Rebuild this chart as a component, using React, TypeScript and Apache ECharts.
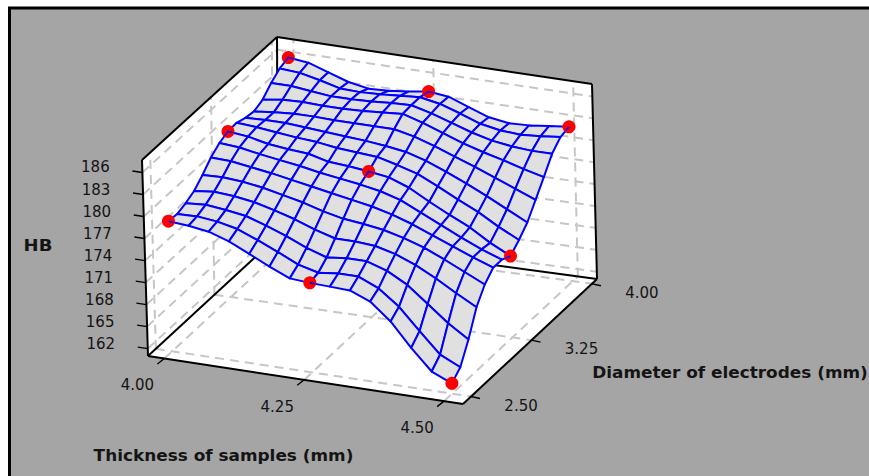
import React, { useEffect, useRef } from "react";
import * as echarts from "echarts";

const thicknessTicks = [4.0, 4.25, 4.5];
const diameterTicks = [2.5, 3.25, 4.0];
const hbTicks = [162, 165, 168, 171, 174, 177, 180, 183, 186];
const thicknessLabels = ["4.00", "4.25", "4.50"];
const diameterLabels = ["2.50", "3.25", "4.00"];
const gridSteps = 14;

// HB on the response surface: rows run from diameter 2.50 to 4.00, columns from thickness 4.00 to 4.50
const hbRow00 = [178.7,178.5,178.1,177.2,175.9,174.6,173.4,173.2,173.1,173.0,171.9,169.6,166.4,163.6,162.4];
const hbRow01 = [178.6,178.7,178.4,177.8,176.7,175.5,174.2,173.5,173.8,173.8,172.6,170.5,167.6,164.8,163.5];
const hbRow02 = [179.0,179.2,178.9,178.5,177.6,176.6,175.4,174.5,174.8,174.8,173.9,172.4,170.2,168.0,166.2];
const hbRow03 = [179.6,179.9,179.7,179.3,178.6,177.8,176.8,176.0,176.0,175.8,175.1,174.0,172.6,171.0,169.5];
const hbRow04 = [180.7,180.8,180.6,180.2,179.6,179.0,178.2,177.6,177.3,176.9,176.2,175.3,174.1,172.8,171.5];
const hbRow05 = [182.0,181.9,181.5,181.1,180.6,180.1,179.6,179.1,178.6,177.9,177.0,175.9,174.8,173.7,172.7];
const hbRow06 = [182.9,182.7,182.2,181.8,181.4,180.9,180.5,180.1,179.6,178.8,177.5,176.2,174.9,173.7,172.7];
const hbRow07 = [183.4,183.1,182.5,182.2,182.0,181.3,181.1,180.8,180.4,179.4,177.9,176.5,175.2,173.5,172.1];
const hbRow08 = [183.5,183.3,183.0,182.7,182.5,182.1,181.9,181.7,181.0,180.2,178.9,177.5,176.2,174.6,173.2];
const hbRow09 = [183.1,183.2,183.2,183.0,182.8,182.6,182.4,182.1,181.7,180.9,179.8,178.6,177.3,175.9,174.5];
const hbRow10 = [182.9,183.2,183.4,183.4,183.3,183.3,183.3,183.3,182.7,181.8,180.8,179.8,178.7,177.6,176.5];
const hbRow11 = [183.4,183.8,183.9,183.8,183.8,183.9,184.1,184.3,183.5,182.5,181.5,180.7,180.0,179.2,178.5];
const hbRow12 = [184.6,184.6,184.3,184.0,184.0,184.1,184.3,184.4,183.7,182.8,181.9,181.2,180.8,180.6,180.6];
const hbRow13 = [185.5,185.3,184.7,184.0,183.9,184.0,184.2,184.4,183.9,183.0,182.0,181.5,181.3,181.5,181.8];
const hbRow14 = [185.9,185.6,184.7,183.8,183.3,183.4,183.7,184.1,183.8,182.8,181.8,181.4,181.5,181.8,182.1];
const hbRows = [hbRow00,hbRow01,hbRow02,hbRow03,hbRow04,hbRow05,hbRow06,hbRow07,hbRow08,hbRow09,hbRow10,hbRow11,hbRow12,hbRow13,hbRow14];

// Measured design points sit on the nodes of the surface: [thickness index, diameter index]
const designPoints = [[0,0],[7,0],[14,0],[0,7],[7,7],[14,7],[0,14],[7,14],[14,14]];

// Projection of the plot box on the page
const HB_MIN = 161;
const HB_MAX = 187.7;
const U0 = 0.052, U1 = 0.94, V0 = 0.06, V1 = 0.962;
const floorCorners = { a: [148, 356], b: [463, 404], c: [597, 279], d: [278, 236] };
const roofCorners = { a: [142, 160], b: [458.5, 208], c: [592, 84], d: [277, 37] };

type P = [number, number];
const lerp = (a: number, b: number, t: number) => a + (b - a) * t;
function bil(q: typeof floorCorners, u: number, v: number): P {
  const f = (k: number) =>
    lerp(lerp(q.a[k], q.b[k], u), lerp(q.d[k], q.c[k], u), v);
  return [f(0), f(1)];
}
function boxPoint(u: number, v: number, t: number): P {
  const a = bil(floorCorners, u, v);
  const b = bil(roofCorners, u, v);
  return [lerp(a[0], b[0], t), lerp(a[1], b[1], t)];
}
const uOf = (thk: number) => U0 + ((thk - 4) / 0.5) * (U1 - U0);
const vOf = (dia: number) => V0 + ((dia - 2.5) / 1.5) * (V1 - V0);
const tOf = (hb: number) => (hb - HB_MIN) / (HB_MAX - HB_MIN);
const node = (i: number, j: number): P =>
  boxPoint(uOf(4 + (0.5 * i) / gridSteps), vOf(2.5 + (1.5 * j) / gridSteps), tOf(hbRows[j][i]));

const BLACK = "#000000";
const GRID = "#c6c6c6";
const BLUE = "#0000ff";
const TEXT = "#141414";
const FONT = '"DejaVu Sans", sans-serif';

const seg = (a: P, b: P, stroke: string, lineWidth: number, dash?: number[]) => ({
  type: "line",
  silent: true,
  shape: { x1: a[0], y1: a[1], x2: b[0], y2: b[1] },
  style: { stroke, lineWidth, lineDash: dash, fill: null, lineCap: "butt" },
});
const poly = (pts: P[], fill: string) => ({
  type: "polygon",
  silent: true,
  shape: { points: pts },
  style: { fill, stroke: null },
});

function boxChildren() {
  const c: any[] = [];
  const p = boxPoint;
  c.push(poly([p(0,0,0), p(0,0,1), p(0,1,1), p(0,1,0)], "#ffffff"));
  c.push(poly([p(0,1,0), p(0,1,1), p(1,1,1), p(1,1,0)], "#ffffff"));
  c.push(poly([p(0,0,0), p(1,0,0), p(1,1,0), p(0,1,0)], "#ffffff"));
  const dash = [9, 6];
  diameterTicks.forEach((d) => {
    const v = vOf(d);
    c.push(seg(p(0,v,0), p(1,v,0), GRID, 2, dash));
    c.push(seg(p(0,v,0), p(0,v,1), GRID, 2, dash));
  });
  thicknessTicks.forEach((x) => {
    const u = uOf(x);
    c.push(seg(p(u,0,0), p(u,1,0), GRID, 2, dash));
    c.push(seg(p(u,1,0), p(u,1,1), GRID, 2, dash));
  });
  hbTicks.forEach((h) => {
    const t = tOf(h);
    c.push(seg(p(0,0,t), p(0,1,t), GRID, 2, dash));
    c.push(seg(p(0,1,t), p(1,1,t), GRID, 2, dash));
  });
  const edges: [P, P][] = [
    [p(0,0,0), p(1,0,0)], [p(1,0,0), p(1,1,0)], [p(1,1,0), p(0,1,0)], [p(0,1,0), p(0,0,0)],
    [p(0,0,0), p(0,0,1)], [p(0,0,1), p(0,1,1)], [p(0,1,1), p(1,1,1)], [p(1,1,1), p(1,1,0)], [p(0,1,0), p(0,1,1)],
  ];
  edges.forEach(([a, b]) => c.push(seg(a, b, BLACK, 2)));
  hbTicks.forEach((h) => {
    const a = p(0,0,tOf(h));
    c.push(seg(a, [a[0] - 10, a[1] - 1.5], BLACK, 1.4));
  });
  thicknessTicks.forEach((x) => {
    const a = p(uOf(x),0,0);
    c.push(seg(a, [a[0] - 7, a[1] + 5.5], BLACK, 1.4));
  });
  diameterTicks.forEach((d) => {
    const a = p(1,vOf(d),0);
    c.push(seg(a, [a[0] + 9, a[1] + 2], BLACK, 1.4));
  });
  return c;
}

function surfaceChildren() {
  const c: any[] = [];
  for (let j = gridSteps - 1; j >= 0; j--) {
    for (let i = 0; i < gridSteps; i++) {
      c.push({
        type: "polygon",
        silent: true,
        shape: { points: [node(i, j), node(i + 1, j), node(i + 1, j + 1), node(i, j + 1)] },
        style: { fill: "#e0e0e0", stroke: BLUE, lineWidth: 2, lineJoin: "round" },
      });
    }
  }
  return c;
}

function dotChildren() {
  const c: any[] = [];
  designPoints.forEach(([i, j]) => {
    const a = node(i, j);
    c.push({ type: "circle", silent: true, shape: { cx: a[0], cy: a[1], r: 6.5 }, style: { fill: "#ff0000", stroke: null } });
  });
  designPoints.forEach(([i, j]) => {
    const a = node(i, j);
    const pts: P[] = [];
    const toward = (n: P): P => {
      const dx = n[0] - a[0], dy = n[1] - a[1];
      const l = Math.hypot(dx, dy) || 1;
      return [a[0] + (dx / l) * 5.5, a[1] + (dy / l) * 5.5];
    };
    if (j > 0) pts.push(toward(node(i, j - 1)));
    pts.push(a);
    if (i + 1 <= gridSteps) pts.push(toward(node(i + 1, j)));
    if (pts.length > 1) {
      c.push({ type: "polyline", silent: true, shape: { points: pts }, style: { stroke: BLUE, lineWidth: 1.6, fill: null } });
    }
  });
  return c;
}

const label = (text: string, x: number, y: number, bold = false, size = 15, stretch = 1) => ({
  type: "text",
  silent: true,
  x,
  y,
  scaleX: stretch,
  style: {
    text, x: 0, y: 0, align: "center", verticalAlign: "middle", fill: TEXT,
    font: `${bold ? "bold " : ""}${size}px ${FONT}`,
  },
});

function textChildren() {
  const c: any[] = [];
  hbTicks.forEach((h) => {
    const a = boxPoint(0, 0, tOf(h));
    c.push(label(String(h), a[0] - 47, a[1] - 5));
  });
  thicknessLabels.forEach((s, k) => {
    const a = boxPoint(uOf(thicknessTicks[k]), 0, 0);
    c.push(label(s, a[0] - 27, a[1] + 27));
  });
  diameterLabels.forEach((s, k) => {
    const a = boxPoint(1, vOf(diameterTicks[k]), 0);
    c.push(label(s, a[0] + 50, a[1] + 9));
  });
  c.push(label("Thickness of samples (mm)", 223.5, 456, true, 15, 1.126));
  c.push(label("Diameter of electrodes (mm)", 730, 373, true, 15, 1.126));
  c.push(label("HB", 38, 246, true, 15, 1.2));
  return c;
}

const layer = (children: () => any[]) => ({
  type: "custom",
  coordinateSystem: "none",
  silent: true,
  data: [[0]],
  renderItem: () => ({ type: "group", children: children() }),
});

export default function App() {
  const ref = useRef<HTMLDivElement>(null);
  useEffect(() => {
    document.body.style.margin = "0";
    document.body.style.background = "#ffffff";
    const chart = echarts.init(ref.current!, null, { renderer: "svg" });
    chart.setOption({
      animation: false,
      backgroundColor: "#ffffff",
      graphic: [
        {
          type: "rect",
          silent: true,
          z: -10,
          shape: { x: 9.5, y: 8, width: 900, height: 500 },
          style: { fill: "#a5a5a5", stroke: "#000000", lineWidth: 3 },
        },
      ],
      series: [layer(boxChildren), layer(surfaceChildren), layer(dotChildren), layer(textChildren)],
    });
    return () => chart.dispose();
  }, []);
  return <div ref={ref} style={{ width: 869, height: 476 }} />;
}
